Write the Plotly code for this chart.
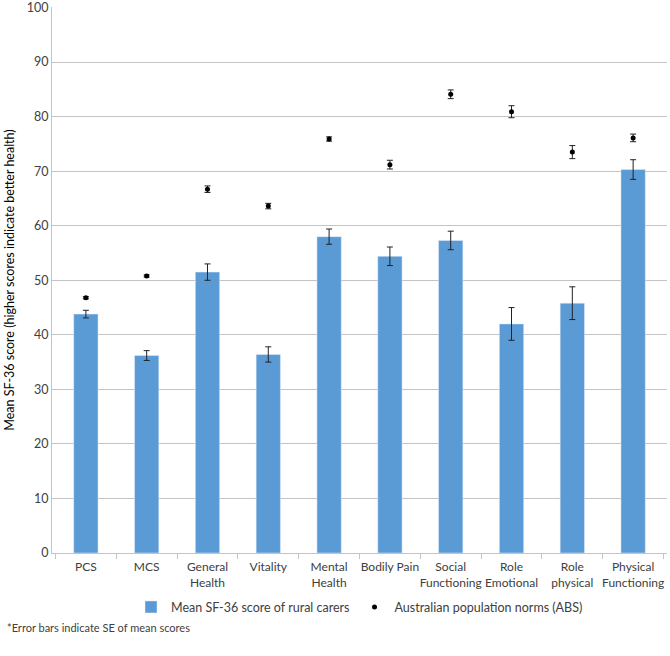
import plotly.graph_objects as go

categories = ["PCS", "MCS", "General<br>Health", "Vitality", "Mental<br>Health", "Bodily Pain",
              "Social<br>Functioning", "Role<br>Emotional", "Role<br>physical", "Physical<br>Functioning"]
carer_means = [43.8, 36.2, 51.5, 36.4, 58.0, 54.4, 57.3, 42.0, 45.8, 70.3]
carer_se = [0.7, 0.9, 1.5, 1.4, 1.4, 1.7, 1.7, 3.0, 3.0, 1.8]
norm_means = [46.8, 50.8, 66.7, 63.6, 75.9, 71.2, 84.1, 80.9, 73.5, 76.1]
norm_se = [0.2, 0.2, 0.6, 0.5, 0.4, 0.8, 0.8, 1.1, 1.2, 0.7]
y_ticks = list(range(0, 101, 10))

font = "Lato, Open Sans, sans-serif"

fig = go.Figure()
fig.add_trace(go.Bar(
    x=categories, y=carer_means, name="Mean SF-36 score of rural carers",
    marker=dict(color="#5B9BD5"),
    error_y=dict(type="data", array=carer_se, color="#222222", thickness=1, width=3),
))
fig.add_trace(go.Scatter(
    x=categories, y=norm_means, mode="markers", name="Australian population norms (ABS)",
    marker=dict(color="black", size=5),
    error_y=dict(type="data", array=norm_se, color="#222222", thickness=1, width=3),
))

fig.update_layout(
    width=670, height=656,
    margin=dict(l=52, r=3, t=7, b=103, autoexpand=False),
    paper_bgcolor="white", plot_bgcolor="white",
    font=dict(family=font, size=13, color="#404040"),
    bargap=0.6,
    showlegend=True,
    legend=dict(orientation="h", x=0.5, xanchor="center", y=-0.072, yanchor="top",
                font=dict(size=12.5, color="#404040"), itemwidth=30),
    yaxis=dict(range=[0, 100.1], tickvals=y_ticks, showgrid=True, gridcolor="#C4C4C4",
               gridwidth=1, zeroline=False, showline=True, linecolor="#C4C4C4",
               ticks="", automargin=False, ticklabeloverflow="allow",
               title=dict(text="Mean SF-36 score (higher scores indicate better health)",
                          font=dict(size=12.5, color="black"), standoff=9),
               tickfont=dict(size=12.5, color="#404040")),
    xaxis=dict(showline=True, linecolor="#C4C4C4", ticks="outside", tickson="boundaries",
               ticklen=5, tickcolor="#C4C4C4", tickangle=0, automargin=False,
               ticklabelstandoff=3, tickfont=dict(size=12, color="#404040")),
    annotations=[dict(text="*Error bars indicate SE of mean scores", xref="paper", yref="paper",
                      x=-0.077, y=-0.12, xanchor="left", yanchor="top", showarrow=False,
                      font=dict(size=11, color="#404040"))],
)

fig.write_html("out.html", config={"displayModeBar": False},
               post_script="document.body.style.margin='0';")
